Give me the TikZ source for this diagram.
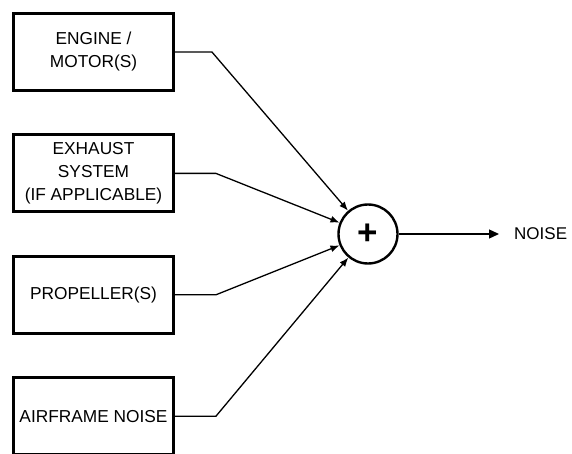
\documentclass[tikz,border=0pt]{standalone}
\usepackage{fontspec}
\setmainfont{Liberation Sans}
\usetikzlibrary{arrows.meta}
\usetikzlibrary{positioning}

\begin{document}
\begin{tikzpicture}[x=1pt, y=1pt,
    source/.style={draw, line width=2.9pt, minimum width=160pt, minimum height=77pt,
        inner sep=0pt, align=center, font=\fontsize{17.3}{23}\selectfont},
    wire/.style={line width=1.3pt},
    feed/.style={wire, -{Latex[length=9pt,width=7pt]}}]
            \useasboundingbox (0,0) rectangle (572,-454);
            \node[source] (engine) at (93.5,-52) {ENGINE /\\MOTOR(S)};
            \node[source, below=41.5pt of engine] (exhaust) {EXHAUST\\SYSTEM\\(IF APPLICABLE)};
            \node[source, below=41.5pt of exhaust] (propeller) {PROPELLER(S)};
            \node[source, below=41.5pt of propeller] (airframe) {AIRFRAME NOISE};
            \node[draw, circle, line width=2.4pt, minimum size=59pt, inner sep=0pt,
                font=\fontsize{35}{35}\bfseries\selectfont] (sum) at (368,-234) {+};
            \node[anchor=west, inner xsep=15pt, inner ysep=0pt,
                font=\fontsize{17}{20}\selectfont] (noise) at (499,-234) {NOISE};
            \coordinate (e1) at ([xshift=37pt]engine.east);
            \coordinate (e2) at ([xshift=41pt]exhaust.east);
            \coordinate (e3) at ([xshift=41pt]propeller.east);
            \coordinate (e4) at ([xshift=41pt]airframe.east);
    	    \draw[feed] (engine.east) -- (e1) -- (sum);
    	    \draw[feed] (exhaust.east) -- (e2) -- (sum);
    	    \draw[feed] (propeller.east) -- (e3) -- (sum);
    	    \draw[feed] (airframe.east) -- (e4) -- (sum);
    	    \draw[wire, -{Triangle[length=10pt,width=9pt]}] (sum) -- (noise.west);
	    \end{tikzpicture}
\end{document}
